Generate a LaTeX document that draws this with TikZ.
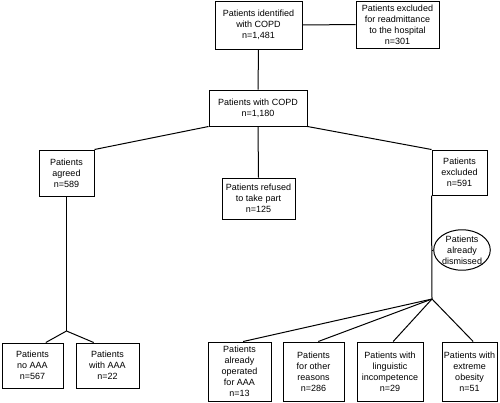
\documentclass[tikz,border=0pt]{standalone}
\usepackage{fontspec}
\setmainfont{Liberation Sans}
\usetikzlibrary{shapes.geometric}

\begin{document}
\begin{tikzpicture}[x=1pt,y=-1pt,
    box/.style={draw,line width=1pt,inner sep=0pt,align=center,
      font=\fontsize{9}{11}\selectfont},
    oval/.style={ellipse,draw,line width=1pt,inner sep=0pt,align=center,
      font=\fontsize{9}{11}\selectfont},
    link/.style={line width=1pt}]
    \useasboundingbox (0,0) rectangle (500,402);

    \node[box,minimum width=87pt,minimum height=48pt] (ident) at (258.5,25)
    {Patients identified\\with COPD\\n=1,481};
    \node[box,minimum width=83pt,minimum height=47pt] (readm) at (397.5,24.5)
    {Patients excluded\\for readmittance\\to the hospital\\n=301};
    \node[box,minimum width=98pt,minimum height=36pt] (copd) at (258,108)
    {Patients with COPD\\n=1,180};

    \node[box,minimum width=55pt,minimum height=46pt] (agreed) at (66.5,173)
    {Patients\\agreed\\n=589};
    \node[box,minimum width=73pt,minimum height=41pt] (refused) at (258.5,198.5)
    {Patients refused\\to take part\\n=125};
    \node[box,minimum width=55pt,minimum height=45pt] (excl) at (459.5,172.5)
    {Patients\\excluded\\n=591};
    \node[oval,minimum width=52pt,minimum height=32pt] (dismissed) at (462,250)
    {Patients\\already\\dismissed};

    \node[box,minimum width=61pt,minimum height=45pt] (noaaa) at (32.5,365.5)
    {Patients\\no AAA\\n=567};
    \node[box,minimum width=63pt,minimum height=45pt] (withaaa) at (107.5,365.5)
    {Patients\\with AAA\\n=22};

    \node[box,minimum width=63pt,minimum height=59pt] (operated) at (239.5,371.5)
    {Patients\\already\\operated\\for AAA\\n=13};
    \node[box,minimum width=61pt,minimum height=59pt] (other) at (313.5,371.5)
    {Patients\\for other\\reasons\\n=286};
    \node[box,minimum width=66pt,minimum height=59pt] (ling) at (390,371.5)
    {Patients with\\linguistic\\incompetence\\n=29};
    \node[box,minimum width=55pt,minimum height=59pt] (obes) at (469.5,371.5)
    {Patients with\\extreme\\obesity\\n=51};

    \coordinate (split1) at (66.5,331);
    \coordinate (split2) at (432,299);

    \draw[link] (ident.east) -- (readm.west);
    \draw[link] (ident.south) -- (copd.north);
    \draw[link] (copd.south west) -- (agreed.north east);
    \draw[link] (copd.south) -- (refused.north);
    \draw[link] (copd.south east) -- (excl.north west);

    \draw[link] (agreed.south) -- (split1);
    \draw[link] (split1) -- (noaaa.60);
    \draw[link] (split1) -- (withaaa.121);

    \draw[link] (excl.south west) -- (split2);
    \draw[link] (dismissed.west) -- (dismissed.west -| split2);
    \draw[link] (split2) -- (operated.83);
    \draw[link] (split2) -- (other.81);
    \draw[link] (split2) -- (ling.84);
    \draw[link] (split2) -- (obes.83);

  \end{tikzpicture}
\end{document}
